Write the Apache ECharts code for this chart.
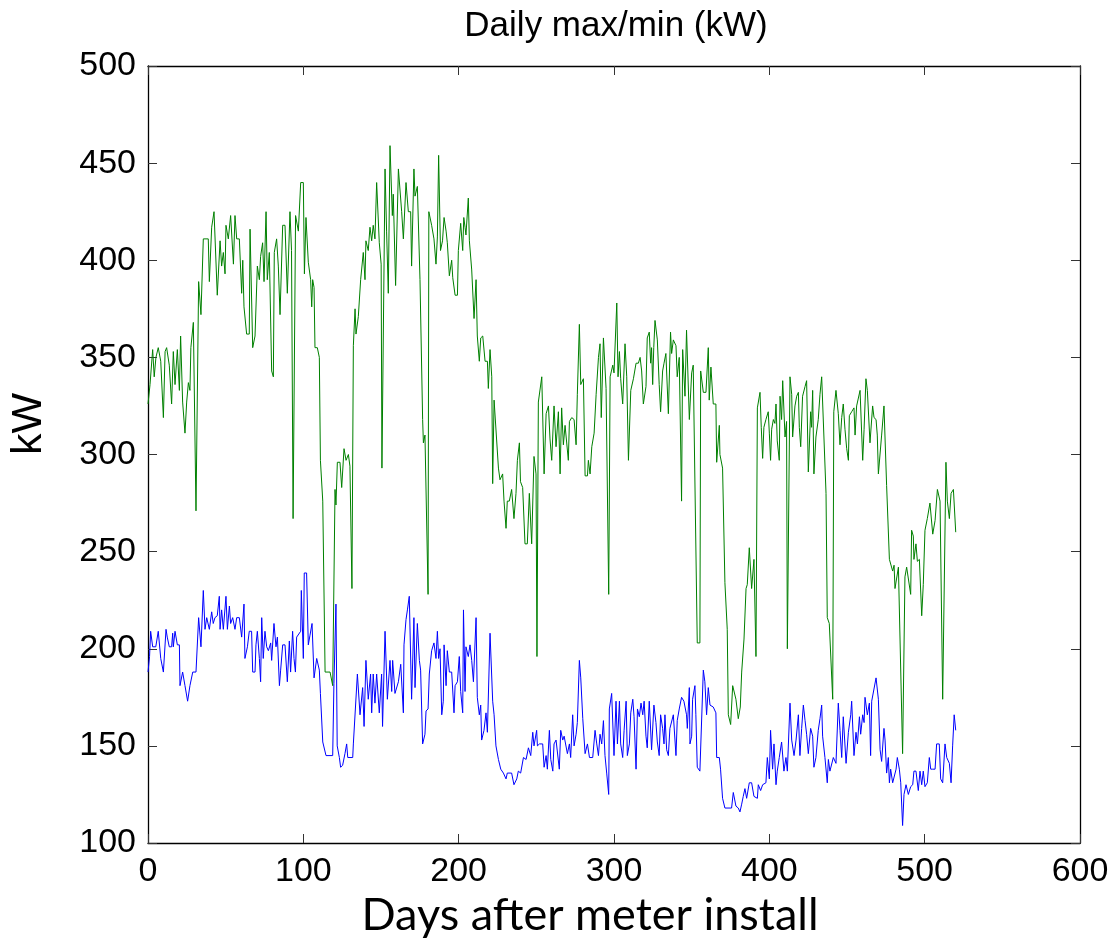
<!DOCTYPE html>
<html>
<head>
<meta charset="utf-8">
<script src="https://cdn.jsdelivr.net/npm/echarts@6/dist/echarts.min.js"></script>
<style>
html,body{margin:0;padding:0;background:#fff;}
#chart{width:1112px;height:939px;}
</style>
</head>
<body>
<div id="chart"></div>
<script>
// ---- Data ----
var titleText = "Daily max/min (kW)";
var xAxisName = "Days after meter install";
var yAxisName = "kW";
var xTicks = [0, 100, 200, 300, 400, 500, 600];
var yTicks = [100, 150, 200, 250, 300, 350, 400, 450, 500];

// Daily maximum (green)
var maxDay = [0,1.3,3,4,5.1,6.6,8.2,9.9,11,12,13.7,15.2,16.3,17.4,18.9,20.2,21,22.3,23.8,24.9,26,27,27.6,29.2,30.9,32.6,34.1,35.6,38.8,39.5,41,42.5,44.6,46.4,47.4,48.5,49.6,50.2,51.7,53.2,55,56,57.1,58.8,
60.3,61,61.8,63.5,65.2,65.7,67.4,68.9,70.4,71.7,72.5,73.8,74.7,76,76.8,78.1,79.6,80.7,81.3,82.8,83.9,85,86.7,88.2,89.7,91.4,92.4,93.4,95,96.8,98.3,100,100.7,101.7,103.2,104.7,105.4,106,106.9,107.5,109,110.3,111,112.5,114,117.2,118.9,120.4,121,121.9,123.6,
124.7,126.2,127.5,129,130,131.3,132.2,133.3,133.9,135.4,136.9,138.6,139.7,140.3,141.8,142.9,144,145,146.1,147.2,148.9,150.1,150.6,152.6,153.6,154.7,155.8,157.3,157.9,159.4,161.2,163.3,164.4,166.1,167.6,169.1,169.7,171.2,171.9,173.4,175.1,176.8,177.3,178.3,180.3,180.8,182.6,184.1,185.4,186.3,187.1,
188.3,189.6,190.6,191.9,192.7,194,195.5,196.2,197.7,199.2,199.8,201.3,202.6,203.3,204.1,204.7,206.2,206.9,208.4,209.9,211.2,212,213.3,214.2,215.5,217,218.5,219.1,220.2,221.3,221.9,222.8,225.6,226.6,228.3,229.2,230.5,231.3,232.6,234.1,235.6,236.9,237.8,239.1,239.8,241.2,242.7,244.2,245.5,247,248.5,249.8,250.4,251.3,252.4,253.5,
255,256.3,257.8,258.8,259.9,261.4,262.7,264.2,265.3,266.3,267.4,268.5,270.6,271.3,272.8,274.3,275.6,276.4,277.7,278.6,280.3,281.4,282.9,283.5,284.6,285.7,287.2,288.5,290,291,291.8,293.2,294.9,296.6,297.5,299.2,300,301.8,302.6,303.5,304.3,305.6,307.1,308.2,309.3,310.8,312.5,314.2,315.7,
316.8,317.8,318.9,320.6,321.4,322.7,323.6,324.2,324.9,325.6,326.4,327.9,329.1,330,331.3,332.2,333.4,335,336.4,337.1,338.2,339.9,340.7,342,343.5,344.2,345.7,346.7,348.5,350,351,352.1,353.6,355.3,355.8,357.5,359.2,360.7,361.3,362.4,363.9,365.6,366.1,367.8,368.2,369.9,371.4,372.9,373.6,375.1,376.4,378.5,380,
381.3,382.2,383.7,385,385.8,387.1,388.6,390.1,391.4,392.3,394,394.8,395.7,396.5,397.8,399.3,400,400.8,401.5,402.6,403.6,404.3,405.1,406.4,406.9,407.9,408.6,410.1,411.1,411.6,413.3,414.4,415,416.5,417.6,418.7,419.3,420.2,421.4,423,424,425.1,426.6,427.2,427.9,428.7,430,431.5,432.6,433.7,436.5,437.3,438.6,440.8,441.5,442.9,444.4,
445.5,446.6,447.6,448.7,449.8,450.9,451.5,453,454.5,455.2,456.2,457.3,458.4,460.1,461,462.2,463.1,464.8,466.5,467.4,468.7,469.5,470.2,472.3,473.8,475.5,477.3,479.4,480.3,480.9,483.1,484.1,485.8,487.3,488.4,489.5,491,491.6,492.7,493.1,494.4,495.3,496.6,498.1,499.1,500.2,501.7,503.4,505.2,506.7,508.2,509.9,511.6,513.7,514.6,515.9,517,518.5,520];
var maxKW = [326,336,354,340,350,355,348,319,353,355,346,326,353,336,354,333,361,327,311,327,337,333,355,368,271,389,372,411,411,389,417,425,382,410,397,404,393,418,411,423,398,423,411,411,
383,400,376,362,362,416,355,361,397,390,402,409,389,425,390,404,343,340,404,411,397,372,418,418,383,425,405,267,423,415,440,440,393,422,399,390,376,390,386,355,355,350,297,276,188,188,181,282,274,296,296,
283,303,297,300,294,231,356,375,362,371,390,404,390,410,405,417,410,418,411,440,409,398,293,447,415,383,459,423,434,387,447,425,411,440,425,425,397,447,433,438,390,318,306,310,228,425,418,411,398,412,454,
405,410,422,415,409,392,400,391,382,382,405,419,405,422,417,413,432,410,395,370,390,361,348,360,361,348,348,334,354,340,285,328,293,287,290,276,262,276,276,282,267,280,297,306,286,283,254,254,280,254,299,290,196,327,328,340,
290,321,325,308,297,325,304,322,290,324,305,315,297,317,319,318,305,331,367,336,339,289,289,297,290,304,311,331,350,357,319,360,334,228,340,346,342,378,340,353,339,326,357,340,297,333,339,347,347,
350,343,326,335,360,363,347,355,336,355,369,359,336,322,343,347,352,321,363,352,359,356,340,350,276,354,330,364,318,342,346,347,203,203,343,332,332,355,328,345,326,326,296,315,300,293,234,210,166,161,181,174,164,
170,188,205,231,233,252,231,246,196,324,332,314,298,314,318,322,311,297,313,318,316,326,307,297,330,318,338,309,317,200,340,331,309,325,330,332,314,304,330,335,338,291,322,314,333,290,309,318,331,340,280,216,213,174,322,333,321,
305,319,326,313,303,297,320,322,324,310,325,326,333,297,313,339,333,306,325,319,318,310,290,310,325,284,246,240,243,231,242,241,146,237,242,243,228,261,258,246,254,245,246,217,233,261,267,275,259,266,282,276,174,296,276,267,280,282,260];

// Daily minimum (blue)
var minDay = [0,1,1.7,3,5,6.6,8.2,9.9,11.6,12.4,13.7,15.2,15.9,16.3,17.4,18.9,20.2,20.6,22.3,23.8,25.5,27,28.8,30.9,32.6,34.1,35.6,36.7,37.8,39.5,41,42,43.1,44.6,45.9,46.4,47.4,48.5,50.2,51.1,52.4,53.2,54.5,56,57.1,58.8,
60.3,61.8,62.4,64,65.2,66.7,67.4,68.9,69.5,70.4,71.7,72.5,73.2,74.2,75.3,76.4,77.5,79,79.6,81.1,82.4,83.3,84.6,85.4,86.7,88.2,89.7,91,91.8,93.1,94,94.9,95.7,96.8,98.3,98.7,100,100.6,102.1,103.2,104.3,105.6,106.9,108.6,110.3,111,112.5,114.6,118.9,119.7,121,121.8,123.2,
124,125.3,126.8,127.9,128.6,131.8,132.2,133.3,134.8,136.5,138.2,139.1,140.3,141.8,143.3,144,145,146.1,147.2,148.9,150.4,151,152.6,154.1,155.8,156.9,157.5,159,161.2,162.7,164.4,164.8,166.1,167,168.2,169.7,171.2,171.9,173.4,174.7,175.5,176.8,178.3,179,180.3,181.1,182.6,184.1,185.4,186.3,187.1,
188,189.1,190.1,190.6,191.9,192.7,194,195.5,197,197.7,199.2,200.4,201.3,202.6,203.1,204.1,204.7,206.2,207.3,208.4,209.5,211.2,212,213.3,214.2,214.8,216.3,217.6,218.5,220.2,221.9,222.8,224,225.6,227.1,228.8,230.5,231.3,234.1,235.6,237.4,238.4,239.9,241.7,243.4,244.9,246.4,247.7,248.5,250.2,250.7,252,
254.1,255,256.3,257.1,258.4,259.3,260.6,261.4,262.7,263.6,264.8,265.7,267,267.9,269.1,270,271.3,272.1,273.4,274.3,275.6,276.4,277.7,278.6,279.9,281.4,282.9,284.2,286.3,287.8,288.9,290,291,292.1,293.2,294.2,295.3,296.6,297,298.5,300,301.3,302.2,303.5,304.3,305.6,306.5,307.8,308.6,309.9,310.8,312.1,312.9,314.2,315.1,316.3,
317.4,318.5,319.4,320.6,321.4,322.7,324.2,325.7,327,327.9,329.1,330,331.3,332.2,332.8,333.9,335,336,337.1,338.2,339.9,340.7,342,342.9,343.5,345,346.7,347.2,348.5,348.9,350,350.6,352.1,352.7,353.6,355.3,357.5,358.5,359.6,360.7,361.8,362.8,363.9,365.6,366.1,367.8,368.6,369.9,371.4,375.7,376.8,378.5,380,
381.1,382.2,383.2,384.3,385.4,387.1,388.6,390.1,392.3,392.9,394.4,395.7,396.6,397.8,398.7,400,400.8,402.1,403,404.3,405.1,406.4,407.9,409.4,410.7,411.6,413.3,414.4,415.9,417.2,418.7,419.7,420.8,421.9,423,424,425.1,426.6,427.9,428.7,430,431.5,432.6,433.7,434.3,435.8,437.3,438,439,440.1,441.2,442.9,444.4,
445.5,446.6,447.6,449.4,450.9,452.4,453,454.5,455.8,456.7,458,458.8,460.1,461,461.6,463.1,464.4,465.2,465.9,467,468.7,470.2,471.3,472.3,473.8,474.5,475.5,476.6,477.3,478.1,479.4,480.3,481.6,482.4,483.7,484.6,485.8,486.7,488,489.5,491,492.3,493.1,494.4,495.9,497,498.1,499.1,500.2,501.7,503,503.9,505.2,506.7,507.7,509.4,510.3,511.6,513.1,514.2,515.9,517,518,519,520];
var minKW = [188,196,209,201,201,209,195,188,210,206,201,201,208,201,209,202,202,181,188,181,173,181,188,188,216,201,230,210,216,210,219,213,216,217,227,210,220,210,227,210,222,213,216,210,216,216,
206,223,195,201,209,209,188,188,202,209,195,183,216,195,209,201,199,203,194,213,201,206,181,189,202,202,183,204,188,209,195,188,206,206,209,230,195,239,239,202,207,213,185,195,189,177,152,145,145,182,223,150,144,
139,140,146,151,144,144,151,151,187,166,180,160,194,174,187,167,187,172,187,167,187,160,209,174,194,178,194,177,183,192,167,202,215,220,227,174,216,180,213,194,189,151,156,168,169,187,199,203,195,209,195,
200,166,173,202,181,199,188,188,167,181,183,196,178,167,220,178,201,196,202,194,183,216,175,166,171,153,158,167,157,208,173,166,150,143,138,136,133,136,136,130,133,137,136,144,143,149,145,157,150,158,150,151,
151,139,145,138,158,143,137,151,153,152,138,158,153,155,156,146,151,144,166,150,156,162,194,185,164,146,151,144,144,158,151,145,156,151,163,145,136,125,169,177,145,173,151,173,151,144,158,173,145,151,167,174,165,138,169,165,
172,166,173,155,149,173,148,171,162,152,145,166,159,151,166,148,145,159,159,166,145,163,169,169,175,173,166,159,180,151,155,174,181,166,139,137,189,183,166,180,171,172,170,167,144,144,138,123,118,118,126,119,118,
116,120,124,128,123,131,131,124,123,130,127,130,131,131,144,133,158,138,151,130,137,144,152,137,144,137,172,153,145,153,166,145,159,171,163,156,146,159,155,139,144,158,164,171,155,144,131,143,137,138,144,141,172,
158,144,165,141,157,166,173,145,157,151,165,156,166,162,175,166,172,145,173,174,185,174,148,142,159,153,136,144,131,138,131,131,138,144,138,131,109,125,130,125,129,130,137,137,127,137,130,137,129,131,144,138,138,138,151,151,133,131,151,144,141,131,150,166,158];

function zip(xs, ys) {
  var n = Math.min(xs.length, ys.length), out = [];
  for (var i = 0; i < n; i++) out.push([xs[i], ys[i]]);
  return out;
}

var chart = echarts.init(document.getElementById('chart'), null, {renderer: 'canvas'});
var tickFont = {fontSize: 34, color: '#000', fontFamily: 'Liberation Sans, Arial, sans-serif'};
var lineCol = '#000';

function xAx(pos, showLabel) {
  return {
    type: 'value', position: pos, min: xTicks[0], max: xTicks[xTicks.length - 1], interval: 100,
    axisLine: {show: true, onZero: false, lineStyle: {color: lineCol, width: 1.3}},
    axisTick: {show: true, inside: true, length: 9, lineStyle: {color: '#333', width: 1}},
    axisLabel: Object.assign({show: showLabel, margin: 12}, tickFont),
    splitLine: {show: false}
  };
}
function yAx(pos, showLabel) {
  return {
    type: 'value', position: pos, min: yTicks[0], max: yTicks[yTicks.length - 1], interval: 50,
    axisLine: {show: true, onZero: false, lineStyle: {color: lineCol, width: 1.3}},
    axisTick: {show: true, inside: true, length: 9, lineStyle: {color: '#333', width: 1}},
    axisLabel: Object.assign({show: showLabel, margin: 12}, tickFont),
    splitLine: {show: false}
  };
}

chart.setOption({
  animation: false,
  backgroundColor: '#fff',
  title: {
    text: titleText, left: 611, top: 4, textAlign: 'center',
    textStyle: {fontSize: 35, fontWeight: 'normal', color: '#000', fontFamily: 'Liberation Sans, Arial, sans-serif'}
  },
  grid: {left: 148, right: 32, top: 66, bottom: 96, containLabel: false},
  xAxis: [xAx('bottom', true), xAx('top', false)],
  yAxis: [yAx('left', true), yAx('right', false)],
  graphic: [
    {type: 'text', x: 590, y: 915, style: {text: xAxisName, fontSize: 45, fontFamily: 'Lato, sans-serif', fill: '#000', align: 'center', verticalAlign: 'middle'}},
    {type: 'text', x: 29, y: 424, rotation: Math.PI / 2, style: {text: yAxisName, fontSize: 43, fontFamily: 'Liberation Sans, Arial, sans-serif', fill: '#000', align: 'center', verticalAlign: 'middle'}}
  ],
  series: [
    {name: 'max', type: 'line', xAxisIndex: 0, yAxisIndex: 0, data: zip(maxDay, maxKW), showSymbol: false, symbol: 'none',
     lineStyle: {color: '#008000', width: 1}, itemStyle: {color: '#008000'}},
    {name: 'min', type: 'line', xAxisIndex: 0, yAxisIndex: 0, data: zip(minDay, minKW), showSymbol: false, symbol: 'none',
     lineStyle: {color: '#0000ff', width: 1}, itemStyle: {color: '#0000ff'}}
  ]
});
</script>
</body>
</html>
